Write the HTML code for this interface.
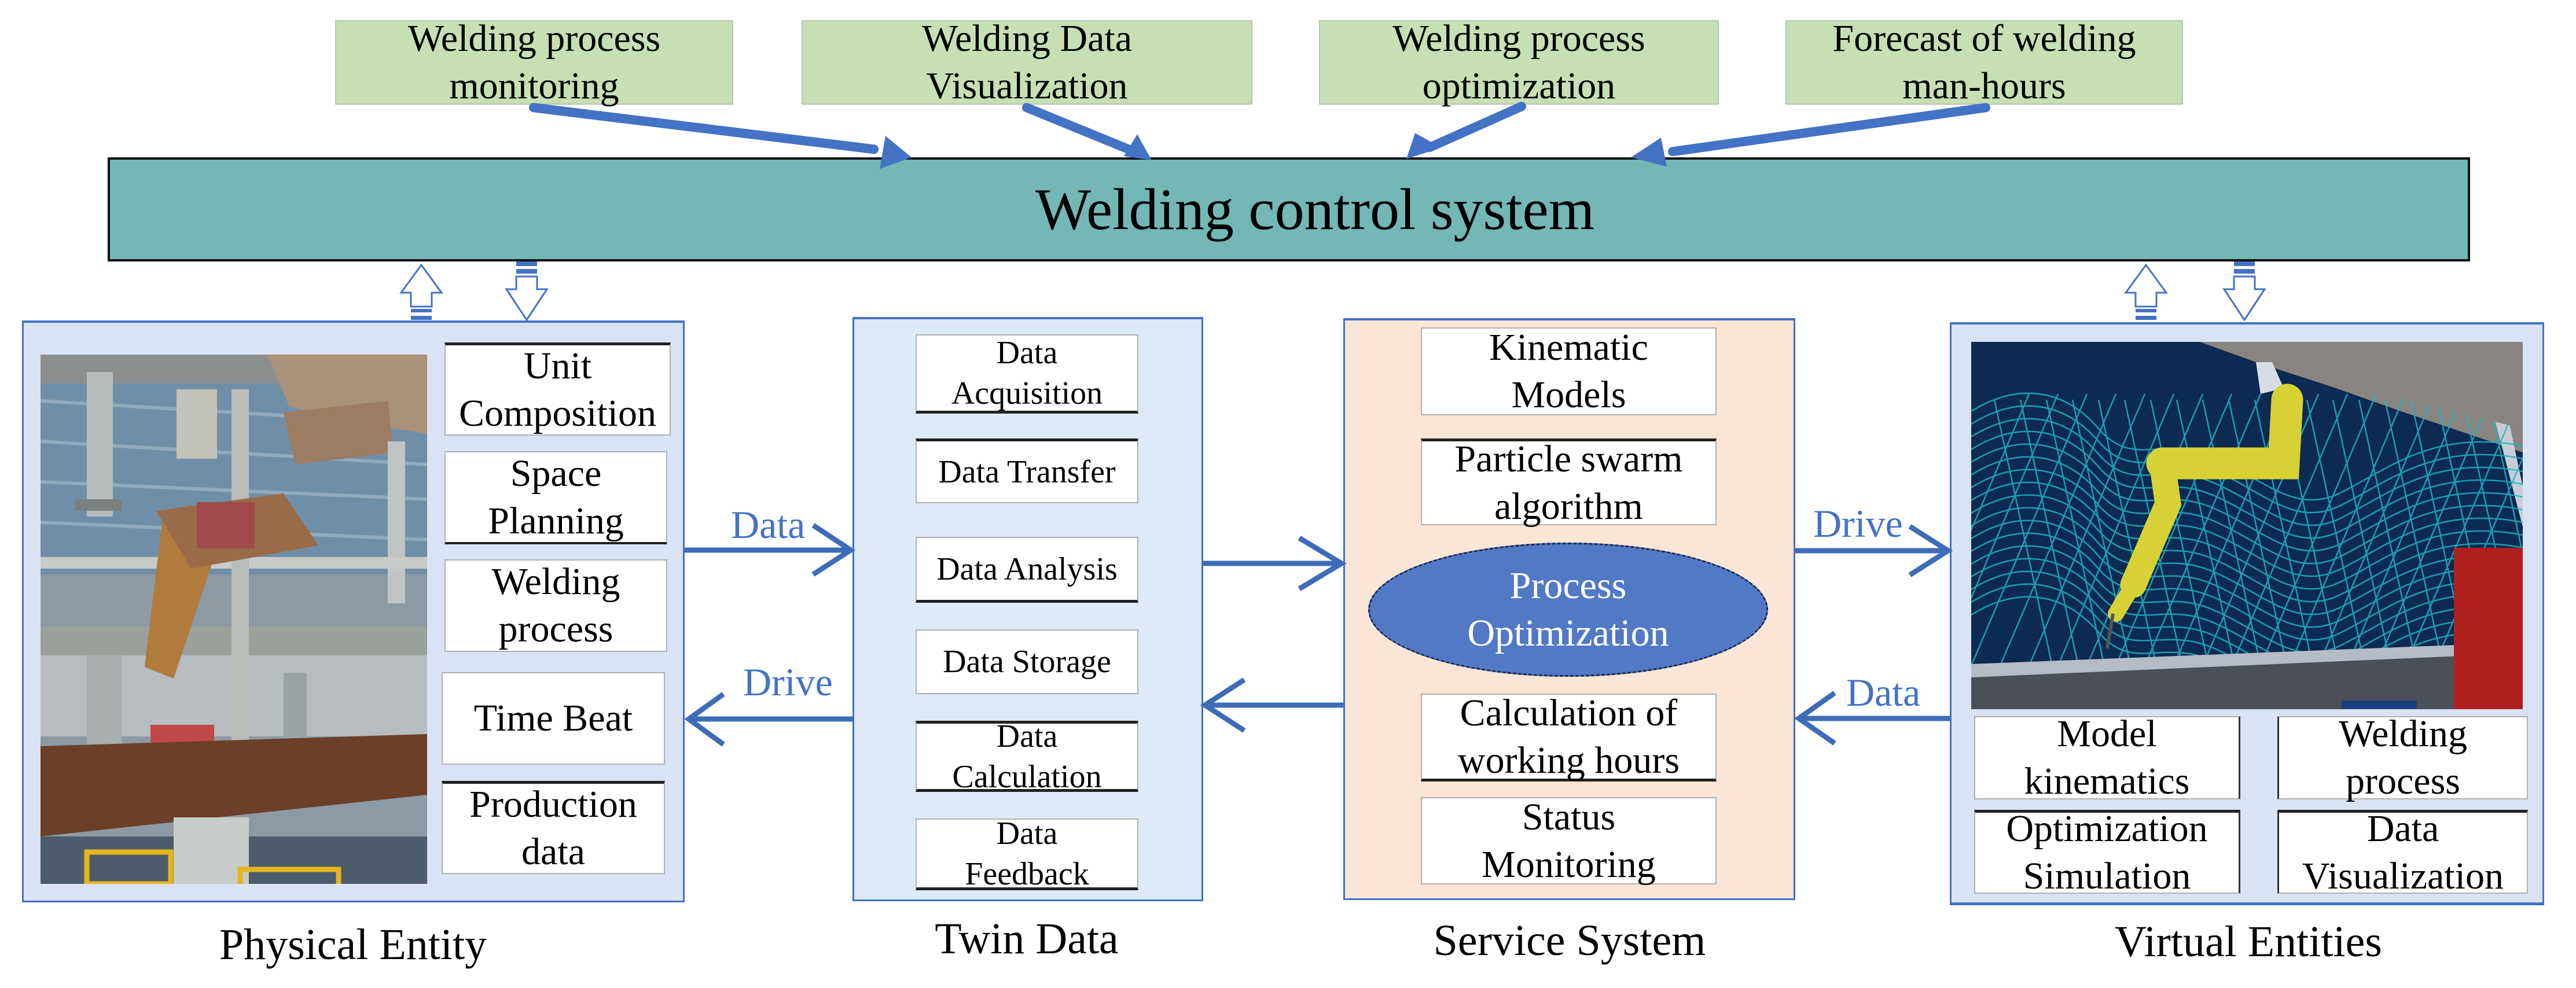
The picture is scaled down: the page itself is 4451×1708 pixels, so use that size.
<!DOCTYPE html>
<html><head><meta charset="utf-8"><style>
*{margin:0;padding:0;box-sizing:border-box}
body{width:4451px;height:1708px;background:#fff;position:relative;overflow:hidden;font-family:"Liberation Serif","Times New Roman",serif;color:#000}
.a{position:absolute}
.g{position:absolute;background:#C6E0B4;border:2px solid #b8c4b0;display:flex;align-items:center;justify-content:center;text-align:center;font-size:66px;line-height:82px}
.b{position:absolute;background:#fff;border:2px solid #b0b0b0;display:flex;align-items:center;justify-content:center;text-align:center;font-size:66px;line-height:82px}
.s{font-size:56px;line-height:70px}
.tb{border-top:5px solid #222}.bb{border-bottom:5px solid #222}
.lab{position:absolute;font-size:76px;text-align:center;width:800px}
.bl{position:absolute;color:#4472C4;font-size:68px}
</style></head><body>
<div class="g" style="left:579px;top:35px;width:688px;height:146px">Welding process<br>monitoring</div>
<div class="g" style="left:1385px;top:35px;width:779px;height:146px">Welding Data<br>Visualization</div>
<div class="g" style="left:2279px;top:35px;width:691px;height:146px">Welding process<br>optimization</div>
<div class="g" style="left:3085px;top:35px;width:687px;height:146px">Forecast of welding<br>man-hours</div>
<div class="a" style="left:186px;top:272px;width:4082px;height:180px;background:#73B8B5;border:4px solid #111;display:flex;align-items:center;justify-content:center;font-size:102px"><span style="margin-left:90px">Welding control system</span></div>

<div class="a" style="left:38px;top:554px;width:1145px;height:1006px;background:#DAE3F3;border:3px solid #4472C4;border-top-width:4px"></div>
<div class="a" style="left:1473px;top:548px;width:606px;height:1010px;background:#DEEBF7;border:3px solid #4472C4;border-top-width:4px"></div>
<div class="a" style="left:2321px;top:550px;width:781px;height:1006px;background:#FBE5D6;border:3px solid #4472C4;border-top-width:4px"></div>
<div class="a" style="left:3369px;top:557px;width:1027px;height:1008px;background:#DAE3F3;border:3px solid #4472C4;border-top-width:4px;border-bottom-width:5px"></div>

<svg class="a" style="left:70px;top:613px" width="668" height="915" viewBox="0 0 668 915">
<rect width="668" height="915" fill="#8e9aa3"/>
<rect width="668" height="380" fill="#6f8fa8"/>
<g stroke="#9fb8c8" stroke-width="6" opacity="0.7"><line x1="0" y1="80" x2="668" y2="120"/><line x1="0" y1="150" x2="668" y2="190"/><line x1="0" y1="220" x2="668" y2="250"/><line x1="0" y1="290" x2="668" y2="320"/></g>
<rect y="0" width="668" height="50" fill="#8b8f8e"/>
<polygon points="392,0 668,0 668,137 560,120 430,90" fill="#a9917a"/>
<polygon points="420,100 600,80 610,170 440,190" fill="#9c7c62"/>
<rect x="80" y="30" width="45" height="250" fill="#b7bcbb"/>
<rect x="60" y="250" width="80" height="20" fill="#7a7f80"/>
<rect x="235" y="60" width="70" height="120" fill="#c2c2b7"/>
<rect x="600" y="150" width="30" height="280" fill="#c0c4c4"/>
<rect x="0" y="350" width="668" height="20" fill="#c8ccc8"/>
<rect x="0" y="470" width="668" height="55" fill="#9aa09a"/>
<rect x="0" y="520" width="668" height="140" fill="#b6bcbf"/>
<rect x="80" y="520" width="60" height="160" fill="#a8aeae"/>
<rect x="330" y="60" width="30" height="620" fill="#b9bdba"/>
<rect x="420" y="550" width="40" height="130" fill="#9aa2a3"/>
<polygon points="210,290 260,260 300,350 230,560 180,540" fill="#b07b3d"/>
<polygon points="200,270 420,240 480,330 260,370" fill="#9a6b48"/>
<rect x="270" y="255" width="100" height="80" fill="#a04a4c"/>
<rect x="190" y="640" width="110" height="40" fill="#c04848"/>
<polygon points="0,677 668,656 668,761 0,833" fill="#6b3f28"/>
<rect x="0" y="833" width="668" height="82" fill="#4d5c6a"/>
<rect x="230" y="800" width="130" height="115" fill="#c8ccc8"/>
<rect x="80" y="860" width="145" height="55" fill="none" stroke="#e5b51c" stroke-width="9"/>
<rect x="345" y="890" width="170" height="30" fill="none" stroke="#e5b51c" stroke-width="9"/>
</svg>

<div class="b tb" style="left:768px;top:592px;width:391px;height:161px">Unit<br>Composition</div>
<div class="b" style="left:768px;top:780px;width:385px;height:161px;border-bottom:4px solid #222">Space<br>Planning</div>
<div class="b" style="left:768px;top:967px;width:385px;height:160px">Welding<br>process</div>
<div class="b" style="left:763px;top:1162px;width:386px;height:160px">Time Beat</div>
<div class="b tb" style="left:763px;top:1350px;width:386px;height:161px">Production<br>data</div>

<div class="b s bb" style="left:1582px;top:578px;width:385px;height:137px">Data<br>Acquisition</div>
<div class="b s tb" style="left:1582px;top:758px;width:385px;height:112px">Data Transfer</div>
<div class="b s bb" style="left:1582px;top:928px;width:385px;height:114px">Data Analysis</div>
<div class="b s" style="left:1582px;top:1088px;width:385px;height:112px">Data Storage</div>
<div class="b s tb bb" style="left:1582px;top:1246px;width:385px;height:123px">Data<br>Calculation</div>
<div class="b s bb" style="left:1582px;top:1415px;width:385px;height:124px">Data<br>Feedback</div>

<div class="b" style="left:2455px;top:566px;width:511px;height:152px">Kinematic<br>Models</div>
<div class="b tb" style="left:2455px;top:758px;width:511px;height:150px">Particle swarm<br>algorithm</div>
<div class="a" style="left:2364px;top:938px;width:691px;height:232px;border-radius:50%;background:#5279C5;border:3px dashed #1a2a4a;display:flex;align-items:center;justify-content:center;text-align:center;color:#fff;font-size:66px;line-height:82px">Process<br>Optimization</div>
<div class="b bb" style="left:2455px;top:1199px;width:511px;height:152px">Calculation of<br>working hours</div>
<div class="b" style="left:2455px;top:1378px;width:511px;height:151px">Status<br>Monitoring</div>

<svg class="a" style="left:3406px;top:591px" width="953" height="635" viewBox="0 0 953 635">
<defs><path id="w" d="M0,120 C80,70 160,80 220,150 S330,160 420,200 S560,300 640,260 S800,150 953,180" fill="none"/>
<path id="d" d="M40,100 L140,560" fill="none"/><path id="e" d="M0,560 L200,90" fill="none"/></defs>
<rect width="953" height="635" fill="#0c2a52"/>
<polygon points="395,0 953,0 953,191 754,124 627,79 492,35" fill="#8a8480"/>
<polygon points="492,35 520,35 540,80 500,90" fill="#d8dde5"/>
<polygon points="870,0 900,0 953,250 953,320" fill="#c9ced6"/>
<g stroke="#1fb3c4" stroke-width="2.5" opacity="0.85">
<use href="#w"/><use href="#w" y="22"/><use href="#w" y="44"/><use href="#w" y="66"/><use href="#w" y="88"/><use href="#w" y="110"/><use href="#w" y="132"/><use href="#w" y="154"/><use href="#w" y="176"/><use href="#w" y="198"/><use href="#w" y="220"/><use href="#w" y="242"/><use href="#w" y="264"/><use href="#w" y="286"/><use href="#w" y="308"/><use href="#w" y="330"/><use href="#w" y="352"/>
<use href="#d"/><use href="#d" x="45"/><use href="#d" x="90"/><use href="#d" x="135"/><use href="#d" x="180"/><use href="#d" x="225"/><use href="#d" x="270"/><use href="#d" x="315"/><use href="#d" x="360"/><use href="#d" x="405"/><use href="#d" x="450"/><use href="#d" x="495"/><use href="#d" x="540"/><use href="#d" x="585"/><use href="#d" x="630"/><use href="#d" x="675"/><use href="#d" x="720"/><use href="#d" x="765"/><use href="#d" x="810"/><use href="#d" x="855"/>
<use href="#e" x="-100"/><use href="#e" x="-50"/><use href="#e"/><use href="#e" x="50"/><use href="#e" x="100"/><use href="#e" x="150"/><use href="#e" x="200"/><use href="#e" x="250"/><use href="#e" x="300"/><use href="#e" x="350"/><use href="#e" x="400"/><use href="#e" x="450"/><use href="#e" x="500"/><use href="#e" x="550"/><use href="#e" x="600"/><use href="#e" x="650"/><use href="#e" x="700"/><use href="#e" x="750"/><use href="#e" x="800"/>
</g>
<polygon points="395,0 953,0 953,150 754,100 627,60 492,20" fill="#8a8480"/>
<polygon points="0,557 914,521 953,530 953,635 0,635" fill="#4a4f58"/>
<polygon points="0,557 914,521 914,540 0,580" fill="#b5bcc6"/>
<rect x="834" y="356" width="119" height="279" fill="#b21f1f"/>
<rect x="640" y="620" width="130" height="15" fill="#1b3f7a"/>
<g stroke="#d7d135" stroke-linecap="round" fill="none">
<path d="M546,100 L540,210 L330,210" stroke-width="55"/>
<path d="M330,210 L340,280 L280,420" stroke-width="45"/>
<path d="M280,420 L250,470" stroke-width="28"/>
</g>
<path d="M245,470 L235,530" stroke="#555" stroke-width="6"/>
</svg>

<div class="b" style="left:3411px;top:1238px;width:460px;height:144px;border-right:3px solid #333">Model<br>kinematics</div>
<div class="b" style="left:3935px;top:1238px;width:433px;height:144px;border-left:3px solid #333">Welding<br>process</div>
<div class="b tb" style="left:3411px;top:1400px;width:460px;height:145px;border-right:3px solid #333">Optimization<br>Simulation</div>
<div class="b tb" style="left:3935px;top:1400px;width:433px;height:145px;border-left:3px solid #333">Data<br>Visualization</div>

<div class="lab" style="left:210px;top:1590px">Physical Entity</div>
<div class="lab" style="left:1374px;top:1580px">Twin Data</div>
<div class="lab" style="left:2312px;top:1583px">Service System</div>
<div class="lab" style="left:3485px;top:1585px">Virtual Entities</div>
<div class="bl" style="left:1263px;top:868px">Data</div>
<div class="bl" style="left:1284px;top:1140px">Drive</div>
<div class="bl" style="left:3133px;top:866px">Drive</div>
<div class="bl" style="left:3190px;top:1158px">Data</div>

<svg class="a" style="left:0;top:0" width="4451" height="1708" viewBox="0 0 4451 1708">
<g stroke="#4472C4" stroke-width="16" stroke-linecap="round">
<line x1="922" y1="186" x2="1510" y2="258"/>
<line x1="1774" y1="186" x2="1950" y2="258"/>
<line x1="2629" y1="184" x2="2470" y2="255"/>
<line x1="3431" y1="186" x2="2890" y2="262"/>
</g>
<g fill="#4472C4">
<polygon points="1575,272 1520,292 1530,235"/>
<polygon points="1990,277 1942,270 1965,232"/>
<polygon points="2430,275 2445,230 2490,255"/>
<polygon points="2818,272 2870,238 2880,288"/>
</g>
<g stroke="#3F6CB8" stroke-width="9" fill="none">
<line x1="1183" y1="951" x2="1468" y2="951"/>
<polyline points="1405,908 1470,951 1405,993"/>
<line x1="1473" y1="1243" x2="1195" y2="1243"/>
<polyline points="1250,1200 1190,1243 1250,1287"/>
<line x1="2079" y1="974" x2="2315" y2="974"/>
<polyline points="2245,930 2318,974 2245,1018"/>
<line x1="2321" y1="1219" x2="2085" y2="1219"/>
<polyline points="2150,1175 2082,1219 2150,1263"/>
<line x1="3102" y1="952" x2="3362" y2="952"/>
<polyline points="3300,910 3366,952 3300,994"/>
<line x1="3369" y1="1242" x2="3112" y2="1242"/>
<polyline points="3170,1198 3108,1242 3170,1285"/>
</g>
<g fill="#fff" stroke="#4472C4" stroke-width="3">
<polygon points="728,458 693,506 710,506 710,530 746,530 746,506 763,506"/>
<polygon points="910,553 875,500 892,500 892,478 928,478 928,500 945,500"/>
<polygon points="3708,458 3673,506 3690,506 3690,530 3726,530 3726,506 3743,506"/>
<polygon points="3878,553 3843,500 3860,500 3860,478 3896,478 3896,500 3913,500"/>
</g>
<g fill="#4472C4">
<rect x="710" y="534" width="36" height="6"/><rect x="710" y="546" width="36" height="7"/>
<rect x="892" y="452" width="36" height="8"/><rect x="892" y="465" width="36" height="8"/>
<rect x="3690" y="534" width="36" height="6"/><rect x="3690" y="546" width="36" height="7"/>
<rect x="3860" y="452" width="36" height="8"/><rect x="3860" y="465" width="36" height="8"/>
</g>
</svg>
</body></html>
